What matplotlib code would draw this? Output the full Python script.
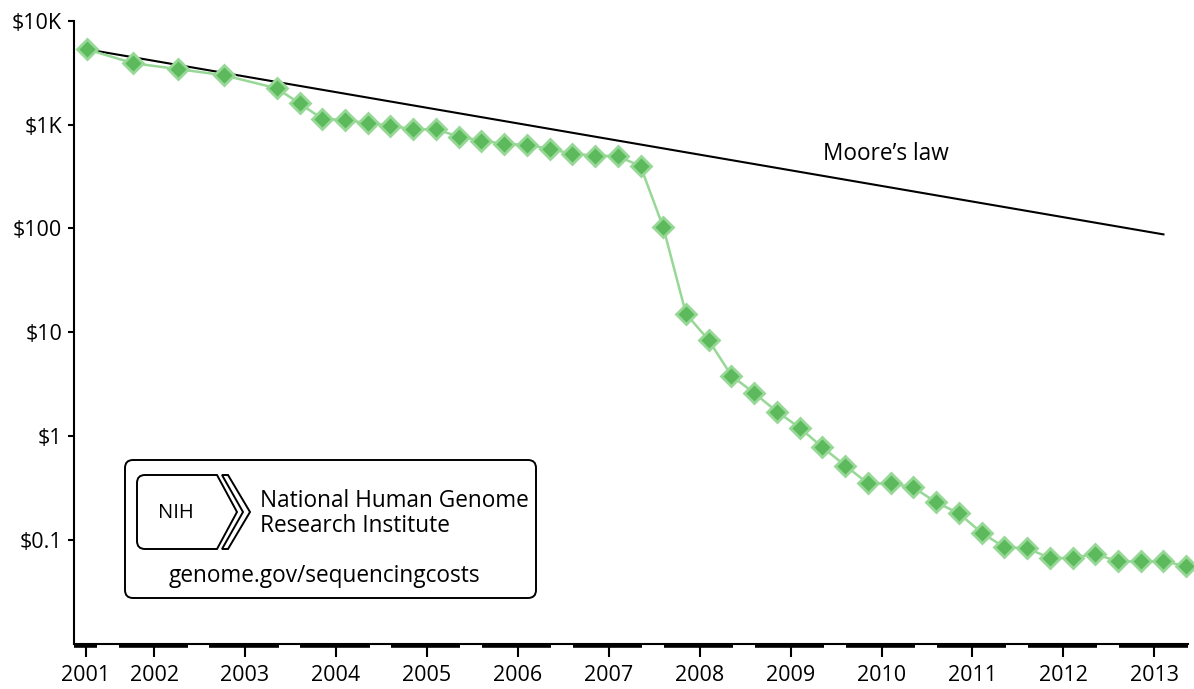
import matplotlib.pyplot as plt
import matplotlib.transforms as mtransforms
from matplotlib.patches import FancyBboxPatch, PathPatch, Polygon
from matplotlib.path import Path

plt.rcParams["font.family"] = ["Open Sans", "DejaVu Sans"]

# cost per megabase (USD), quarterly from late 2003, x in decimal years
dates = [2001.667, 2002.167, 2002.667, 2003.167, 2003.75,
         2004.0, 2004.25, 2004.5, 2004.75,
         2005.0, 2005.25, 2005.5, 2005.75,
         2006.0, 2006.25, 2006.5, 2006.75,
         2007.0, 2007.25, 2007.5, 2007.75,
         2008.0, 2008.25, 2008.5, 2008.75,
         2009.0, 2009.25, 2009.5, 2009.75,
         2010.0, 2010.25, 2010.5, 2010.75,
         2011.0, 2011.25, 2011.5, 2011.75,
         2012.0, 2012.25, 2012.5, 2012.75,
         2013.0, 2013.25, 2013.5, 2013.75]
cost = [5292.39, 3898.64, 3413.80, 2986.20, 2230.98,
        1598.91, 1135.70, 1107.46, 1028.85,
        974.16, 897.76, 898.90, 766.73,
        699.20, 651.81, 636.41, 581.92,
        522.71, 502.61, 495.96, 397.09,
        102.13, 15.03, 8.36, 3.81,
        2.59, 1.72, 1.20, 0.78,
        0.52, 0.35, 0.35, 0.32,
        0.23, 0.18, 0.117, 0.085,
        0.083, 0.067, 0.067, 0.073,
        0.062, 0.062, 0.062, 0.056]

moore_x = [2001.667, 2013.5]
moore_y = [5292.39, 87.5]

year_labels = [str(y) for y in range(2001, 2014)]
year_ticks = [2001.65] + [y + 0.40 for y in range(2002, 2014)]
years = list(range(2001, 2014))

y_ticks = [0.1, 1, 10, 100, 1000, 10000]
y_labels = ["$0.1", "$1", "$10", "$100", "$1K", "$10K"]

TICK_FS = 15.5
TEXT_FS = 16.3
XMIN, XMAX = 2001.52, 2013.77

fig = plt.figure(figsize=(11.94, 6.89), dpi=100)
ax = fig.add_axes([74 / 1194, 1 - 643.7 / 689, (1188 - 74) / 1194, (643.7 - 20.7) / 689])

ax.plot(moore_x, moore_y, color="black", lw=1.5, zorder=2)
ax.plot(dates, cost, color="#97d897", lw=1.8, marker="D", markersize=10,
        markerfacecolor="#5cba5c", markeredgecolor="#97d897", markeredgewidth=2,
        zorder=3, clip_on=False)
ax.text(2010.45, 520, "Moore\u2019s law", fontsize=TEXT_FS, ha="center", va="center")

ax.set_yscale("log")
ax.set_ylim(0.01, 10000)
ax.set_xlim(XMIN, XMAX)
ax.set_yticks(y_ticks)
ax.set_yticklabels(y_labels)
ax.yaxis.set_minor_locator(plt.NullLocator())
ax.set_xticks(year_ticks)
ax.set_xticklabels(year_labels)

for s in ["top", "right"]:
    ax.spines[s].set_visible(False)
for s in ["left", "bottom"]:
    ax.spines[s].set_linewidth(1.5)
ax.tick_params(axis="y", length=4.5, width=1.5, pad=4, labelsize=TICK_FS)
ax.tick_params(axis="x", length=9.5, width=1.5, pad=6, labelsize=TICK_FS)

# thick year bands under the x axis
base = mtransforms.blended_transform_factory(ax.transData, ax.transAxes)
band_tr = mtransforms.offset_copy(base, fig=fig, x=0, y=-1.8, units="dots")
for y in years:
    a = max(y + 0.01, XMIN)
    b = min(y + 0.77, XMAX)
    ax.plot([a, b], [0, 0], transform=band_tr, color="black", lw=2.6,
            solid_capstyle="butt", clip_on=False)

# NHGRI badge, drawn in pixel coordinates
ov = fig.add_axes([0, 0, 1, 1])
ov.set_xlim(0, 1194)
ov.set_ylim(689, 0)
ov.axis("off")

ov.add_patch(FancyBboxPatch((125, 460), 411, 138,
                            boxstyle="round,pad=0,rounding_size=8",
                            facecolor="white", edgecolor="black", lw=1.4))

verts = [(145, 475), (217, 475), (237, 512), (217, 549), (145, 549),
         (137, 549), (137, 541), (137, 483), (137, 475), (145, 475)]
codes = [Path.MOVETO, Path.LINETO, Path.LINETO, Path.LINETO, Path.LINETO,
         Path.CURVE3, Path.CURVE3, Path.LINETO, Path.CURVE3, Path.CURVE3]
ov.add_patch(PathPatch(Path(verts, codes), facecolor="white", edgecolor="black", lw=1.4))
ov.add_patch(Polygon([(222, 475), (228, 475), (250, 512), (228, 549), (222, 549), (243, 512)],
                     closed=True, facecolor="white", edgecolor="black", lw=1.4,
                     joinstyle="miter"))

ov.text(176, 518, "NIH", fontsize=14.5, ha="center", va="baseline")
ov.text(260, 506.7, "National Human Genome", fontsize=TEXT_FS, ha="left", va="baseline")
ov.text(260, 532.3, "Research Institute", fontsize=TEXT_FS, ha="left", va="baseline")
ov.text(324, 582, "genome.gov/sequencingcosts", fontsize=TEXT_FS, ha="center", va="baseline")

fig.savefig("out.png", dpi=100)
